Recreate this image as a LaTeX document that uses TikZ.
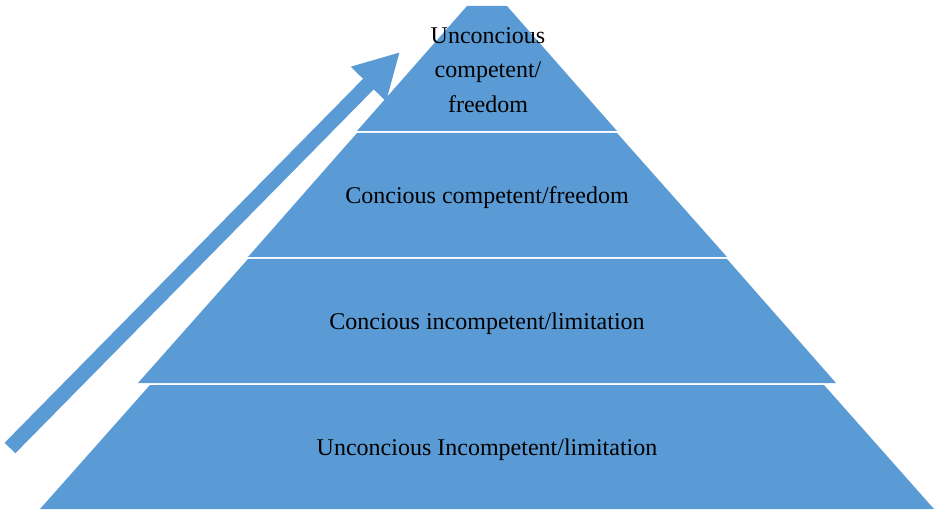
\documentclass[tikz,border=0pt]{standalone}
\usepackage{fontspec}
\setmainfont{Liberation Serif}
\usetikzlibrary{arrows.meta}
\definecolor{pyrblue}{HTML}{5B9BD5}

\begin{document}
\begin{tikzpicture}[x=1pt, y=1pt,
	band/.style={fill=pyrblue},
	lbl/.style={font=\fontsize{24}{34.5}\selectfont, align=center, text=black}]
	\useasboundingbox (0,0) rectangle (937,512);
	\foreach \yb/\yt/\lb/\rb/\lt/\rt in {3/127/40/934/150/824, 129/253/138/836/248/727, 255/379/248/727/357/617, 381/506/357/617/467/507}{
		\fill[band] (\lb,\yb) -- (\rb,\yb) -- (\rt,\yt) -- (\lt,\yt) -- cycle;
	}
	\node[lbl] (lvl1) at (487,62) {Unconcious Incompetent/limitation};
	\node[lbl] (lvl2) at (487,188) {Concious incompetent/limitation};
	\node[lbl] (lvl3) at (487,314) {Concious competent/freedom};
	\node[lbl] (lvl4) at (488,442) {Unconcious\\competent/\\freedom};
	\coordinate (tail) at (10,64);
	\coordinate (tip) at (400,460);
	\draw[pyrblue, line width=15pt, -{Triangle[width=46pt, length=45pt]}] (tail) -- (tip);
\end{tikzpicture}
\end{document}
